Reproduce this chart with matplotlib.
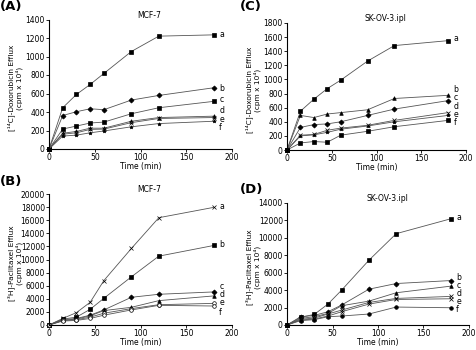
import matplotlib
matplotlib.use('Agg')
import matplotlib.pyplot as plt

# time points (min)
time = [0, 15, 30, 45, 60, 90, 120, 180]
series_labels = ['a', 'b', 'c', 'd', 'e', 'f']

# (A) MCF-7, doxorubicin efflux
dox_mcf7 = [
    [0, 446, 590, 698, 817, 1054, 1220, 1234],
    [0, 362, 403, 435, 425, 529, 579, 662],
    [0, 216, 248, 281, 291, 381, 446, 515],
    [0, 170, 190, 225, 225, 300, 340, 355],
    [0, 160, 175, 212, 215, 285, 330, 340],
    [0, 140, 150, 175, 195, 240, 275, 300],
]
# (C) SK-OV-3.ipl, doxorubicin efflux
dox_skov = [
    [0, 550, 720, 870, 990, 1260, 1480, 1550],
    [0, 490, 460, 510, 530, 570, 730, 775],
    [0, 320, 360, 370, 400, 490, 580, 700],
    [0, 210, 220, 280, 310, 350, 420, 530],
    [0, 200, 215, 250, 295, 340, 400, 490],
    [0, 100, 120, 110, 210, 265, 330, 420],
]
# (B) MCF-7, paclitaxel efflux
ptx_mcf7 = [
    [0, 1000, 1890, 3470, 6790, 11680, 16380, 17960],
    [0, 900, 1200, 2400, 4080, 7350, 10510, 12140],
    [0, 800, 1000, 1500, 2300, 4230, 4690, 5050],
    [0, 700, 900, 1400, 2200, 2700, 3720, 4440],
    [0, 700, 800, 1200, 1800, 2500, 3100, 3300],
    [0, 600, 700, 1000, 1500, 2300, 3000, 2900],
]
# (D) SK-OV-3.ipl, paclitaxel efflux
ptx_skov = [
    [0, 880, 1220, 2400, 4000, 7430, 10480, 12190],
    [0, 950, 1100, 1520, 2290, 4110, 4760, 5100],
    [0, 760, 950, 1330, 2210, 2740, 3700, 4460],
    [0, 650, 800, 1260, 1710, 2590, 3050, 3280],
    [0, 570, 690, 1030, 1520, 2400, 2930, 3010],
    [0, 500, 610, 950, 1030, 1260, 2060, 1980],
]

# label y positions at right end (data units)
lab_A = [1234, 659, 530, 411, 320, 230]
lab_C = [1577, 860, 740, 615, 505, 390]
lab_B = [18020, 12215, 5900, 4700, 3400, 1900]
lab_D = [12390, 5450, 4500, 3600, 2700, 1750]

fig = plt.figure(figsize=(4.77, 3.5), dpi=100)
plt.rcParams['font.family'] = ['DejaVu Sans']

FS = 5.5

def panel(rect, data, markers, ymax, ystep, title, ylabel, labpos, tag, tagxy):
    ax = fig.add_axes(rect)
    for vals, m in zip(data, markers):
        mfc = 'white' if m == 'open' else 'black'
        mk = 'o' if m == 'open' else m
        ax.plot(time, vals, '-', color='#555555', linewidth=0.6,
                marker=mk, markersize=2.6, markerfacecolor=mfc,
                markeredgecolor='black', markeredgewidth=0.5, clip_on=False)
    for lab, yy in zip(series_labels, labpos):
        ax.text(186, yy, lab, fontsize=5.6, va='center', ha='left')
    ax.set_xlim(0, 200)
    ax.set_ylim(0, ymax)
    ax.set_xticks([0, 50, 100, 150, 200])
    ax.set_yticks(range(0, ymax + 1, ystep))
    ax.spines['top'].set_visible(False)
    ax.spines['right'].set_visible(False)
    ax.spines['left'].set_linewidth(0.8)
    ax.spines['bottom'].set_linewidth(0.8)
    ax.tick_params(labelsize=FS, length=2, width=0.6, pad=1)
    ax.set_xlabel('Time (min)', fontsize=FS, labelpad=0)
    ax.set_ylabel(ylabel, fontsize=5.3, linespacing=1.15)
    # right edge of the label sits ~26 px left of the axis line
    ax.yaxis.set_label_coords(-26 / (rect[2] * 477), 0.47)
    ax.set_title(title, fontsize=FS, pad=-7, x=0.55)
    fig.text(tagxy[0], tagxy[1], tag, fontsize=9.5, fontweight='bold',
             va='top', ha='left')
    return ax

ylab_dox = '[¹⁴C]-Doxorubicin Efflux\n(cpm x 10⁴)'
ylab_ptx = '[³H]-Paclitaxel Efflux\n(cpm x 10⁴)'

panel([49 / 477, 1 - 149 / 350, 183 / 477, 129.5 / 350], dox_mcf7,
      ['s', 'D', 's', '^', 'x', '*'], 1400, 200, 'MCF-7', ylab_dox,
      lab_A, '(A)', (0.0, 1.0))
panel([287 / 477, 1 - 150 / 350, 179 / 477, 127 / 350], dox_skov,
      ['s', '^', 'D', 'x', '*', 's'], 1800, 200, 'SK-OV-3.ipl', ylab_dox,
      lab_C, '(C)', (240 / 477, 1.0))
panel([49 / 477, 1 - 325 / 350, 183 / 477, 131 / 350], ptx_mcf7,
      ['x', 's', 'D', '^', 'open', 'open'], 20000, 2000, 'MCF-7', ylab_ptx,
      lab_B, '(B)', (0.0, 1 - 175 / 350))
panel([287 / 477, 1 - 325 / 350, 182 / 477, 122 / 350], ptx_skov,
      ['s', 'D', '^', 'x', 'x', 'o'], 14000, 2000, 'SK-OV-3.ipl', ylab_ptx,
      lab_D, '(D)', (240 / 477, 1 - 183 / 350))

fig.savefig('out.png', dpi=100)
